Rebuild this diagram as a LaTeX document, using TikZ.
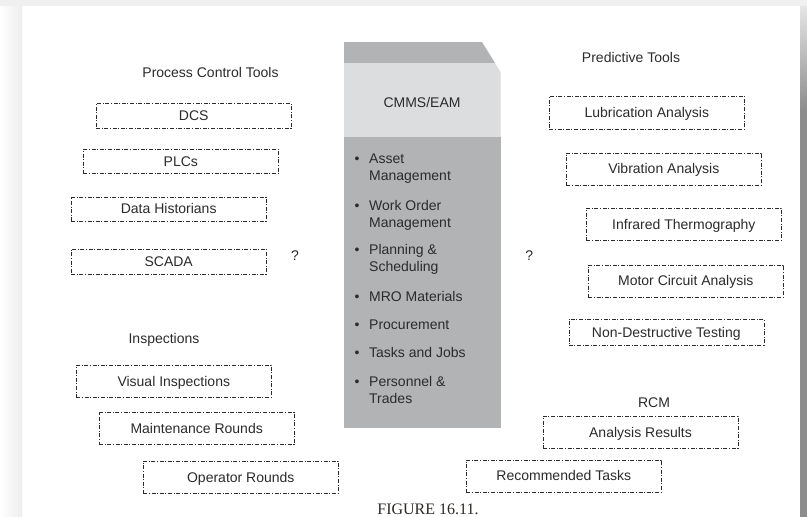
\documentclass[tikz,border=0pt]{standalone}
\usepackage{fontspec}
\setmainfont{Liberation Sans}
\newfontfamily\figfont{Liberation Serif}
\usepackage{xcolor}
\definecolor{ink}{HTML}{2B2B2B}
\definecolor{boxdark}{HTML}{B2B3B5}
\definecolor{boxlight}{HTML}{DCDDDE}
\definecolor{capink}{HTML}{2E2925}

\begin{document}
\begin{tikzpicture}[x=1pt,y=-1pt,font=\fontsize{14}{17}\selectfont,text=ink,
		head/.style={inner sep=0pt,text height=10pt,text depth=0pt},
		tool/.style={head,draw=ink,line width=0.6pt,dash pattern=on 4pt off 1.6pt on 1pt off 1.6pt,minimum width=195pt},
		low/.style={tool,minimum height=25pt},
		high/.style={tool,minimum height=32pt},
		item/.style={anchor=base west,align=left,inner sep=0pt}]
		\useasboundingbox (0,0) rectangle (807,517);
		\fill[white] (0,0) rectangle (807,517);
		\shade[left color=white,right color=black!7] (0,6) rectangle (22,517);
		\fill[black!6] (0,0) rectangle (807,6);
		\shade[top color=black!10,bottom color=black!45] (800,6) rectangle (807,110);
		\fill[black!45] (800,110) rectangle (807,517);
		\fill[boxdark] (344,42) -- (482,42) -- (495,63) -- (344,63) -- cycle;
		\fill[boxlight] (344,63) -- (495,63) -- (500.5,72) -- (500.5,137) -- (344,137) -- cycle;
		\fill[boxdark] (344,137) rectangle (500.5,428);
		\node[head] (cmms) at (422,102) {CMMS/EAM};
		\foreach \y/\n/\txt [count=\i] in {163/1/{Asset\\Management},210.5/1/{Work Order\\Management},254.5/1/{Planning \&\\Scheduling},301/0/{MRO Materials},329/0/{Procurement},357.5/0/{Tasks and Jobs},386/1/{Personnel \&\\Trades}}
		{
			\node[item] (item\i) at (369,{\y+17*\n}) {\txt};
			\node[anchor=base,inner sep=0pt] (dot\i) at (357,\y) {\textbullet};
		}
		\node[head] (pct) at (210.5,72) {Process Control Tools};
		\node[low] (dcs) at (193.7,115.8) {DCS};
		\node[low,minimum height=24pt] (plcs) at (180.8,161.3) {PLCs};
		\node[low,minimum height=24pt] (hist) at (168.7,208.8) {Data Historians};
		\node[low] (scada) at (168.7,261.7) {SCADA};
		\node[head] (qleft) at (295,255) {?};
		\node[head] (insp) at (164,338) {Inspections};
		\node[high] (visual) at (173.8,381.2) {Visual Inspections};
		\node[high] (maint) at (196.7,428.5) {Maintenance Rounds};
		\node[high] (oper) at (240.8,477) {Operator Rounds};
		\node[head] (pred) at (631,57) {Predictive Tools};
		\node[high,minimum height=33pt] (lube) at (646.8,112.7) {Lubrication Analysis};
		\node[high] (vib) at (663.8,168.8) {Vibration Analysis};
		\node[high] (ir) at (683.8,224.2) {Infrared Thermography};
		\node[high] (mca) at (685.8,280.8) {Motor Circuit Analysis};
		\node[low,minimum height=26pt] (ndt) at (666.3,332.2) {Non-Destructive Testing};
		\node[head] (qright) at (529.3,255) {?};
		\node[head] (rcm) at (654,402) {RCM};
		\node[high] (result) at (640.5,432.2) {Analysis Results};
		\node[high] (task) at (563.8,475.8) {Recommended Tasks};
		\node[anchor=base,inner sep=0pt,text=capink,font=\figfont\fontsize{16}{16}\selectfont] (fig) at (428,514) {FIGURE 16.11.};
\end{tikzpicture}
\end{document}
